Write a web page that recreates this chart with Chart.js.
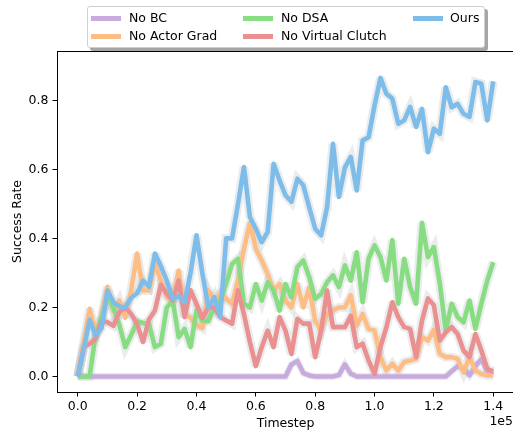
<!DOCTYPE html>
<html><head><meta charset="utf-8">
<script src="https://cdn.jsdelivr.net/npm/chart.js@4.4.1/dist/chart.umd.min.js"></script>
<style>
html,body{margin:0;padding:0;overflow:hidden;background:#fff;width:513px;height:435px;}
#wrap{position:absolute;left:0;top:0;width:520px;height:435px;}
#legend{position:absolute;left:87px;top:6px;width:396px;height:40px;border:1px solid #cfcfcf;border-radius:3px;background:#fff;box-shadow:3px 3px 0 #a6a6a6;font-family:"DejaVu Sans";font-size:12.5px;color:#000;}
.h{position:absolute;height:5px;width:30px;}
.t{position:absolute;line-height:14px;white-space:nowrap;}
</style></head>
<body>
<div id="wrap"><canvas id="c" width="520" height="435"></canvas></div>
<div id="legend"></div>
<script>
// ---- data ----
const timesteps = [0,2000,4000,6000,8000,10000,12000,14000,16000,18000,20000,22000,24000,26000,28000,30000,32000,34000,36000,38000,40000,42000,44000,46000,48000,50000,52000,54000,56000,58000,60000,62000,64000,66000,68000,70000,72000,74000,76000,78000,80000,82000,84000,86000,88000,90000,92000,94000,96000,98000,100000,102000,104000,106000,108000,110000,112000,114000,116000,118000,120000,122000,124000,126000,128000,130000,132000,134000,136000,138000,140000];
const xTickValues = [0,20000,40000,60000,80000,100000,120000,140000];
const yTickValues = [0,0.2,0.4,0.6,0.8];
const seriesNames = ["No BC","No Actor Grad","No DSA","No Virtual Clutch","Ours"];

const noBC = [0,0,0,0,0,0,0,0,0,0,0,0,0,0,0,0,0,0,0,0,0,0,0,0,0,0,0,0,0,0,0,0,0,0,0,0,0.035,0.045,0.01,0.003,0,0,0,0,0.004,0.035,0.008,0,0,0,0,0,0,0,0,0,0,0,0,0,0,0,0,0.015,0.03,0.025,0.003,0.03,0.05,0.015,0.005];
const noActorGrad = [0,0.10,0.196,0.13,0.17,0.26,0.19,0.22,0.17,0.25,0.356,0.249,0.249,0.327,0.278,0.23,0.22,0.307,0.182,0.17,0.15,0.14,0.249,0.22,0.24,0.225,0.21,0.28,0.37,0.445,0.37,0.336,0.297,0.249,0.268,0.22,0.2,0.268,0.2,0.258,0.162,0.133,0.181,0.191,0.2,0.2,0.235,0.147,0.181,0.138,0.133,0.056,0.017,0.037,0.017,0.042,0.046,0.051,0.114,0.104,0.135,0.065,0.056,0.056,0.051,0.012,0.056,0.017,0.007,0.003,0.003];
const noDSA = [0,0,0,0.12,0.17,0.23,0.20,0.15,0.085,0.12,0.16,0.155,0.152,0.085,0.095,0.2,0.22,0.114,0.138,0.085,0.191,0.162,0.16,0.2,0.22,0.268,0.326,0.341,0.211,0.2,0.268,0.22,0.273,0.249,0.191,0.268,0.229,0.317,0.336,0.288,0.225,0.239,0.273,0.293,0.259,0.322,0.278,0.36,0.215,0.341,0.38,0.346,0.278,0.395,0.211,0.341,0.259,0.211,0.445,0.346,0.375,0.269,0.133,0.211,0.172,0.157,0.22,0.138,0.211,0.278,0.331];
const noVirtualClutch = [0,0.085,0.095,0.109,0.16,0.157,0.147,0.186,0.2,0.181,0.152,0.1,0.165,0.191,0.266,0.24,0.22,0.278,0.172,0.25,0.21,0.17,0.2,0.2,0.172,0.162,0.153,0.25,0.18,0.10,0.03,0.085,0.133,0.085,0.172,0.133,0.065,0.167,0.153,0.153,0.056,0.133,0.249,0.143,0.143,0.143,0.176,0.085,0.095,0.046,0.007,0.085,0.143,0.215,0.172,0.143,0.138,0.056,0.162,0.226,0.206,0.104,0.128,0.143,0.123,0.075,0.056,0.123,0.075,0.022,0.015];
const ours = [0,0.08,0.164,0.119,0.14,0.249,0.215,0.203,0.2,0.228,0.241,0.278,0.26,0.356,0.32,0.278,0.225,0.232,0.215,0.3,0.409,0.298,0.2,0.23,0.172,0.40,0.40,0.50,0.607,0.462,0.428,0.389,0.419,0.616,0.568,0.525,0.506,0.573,0.554,0.49,0.428,0.409,0.49,0.674,0.52,0.605,0.636,0.539,0.684,0.693,0.785,0.865,0.819,0.805,0.732,0.742,0.781,0.723,0.775,0.650,0.718,0.703,0.838,0.780,0.790,0.761,0.752,0.853,0.848,0.742,0.855];

const seriesValues = [noBC, noActorGrad, noDSA, noVirtualClutch, ours];
const seriesColors = ["#c8aade","#ffbd86","#88dc82","#ea9090","#7ebde9"];
const haloWidths = [7,9,9,9,9];

// ---- datasets ----
const datasets = [];
seriesValues.forEach((vals, s) => {
  datasets.push({
    label: seriesNames[s] + " band",
    data: vals.map((v, i) => ({x: timesteps[i], y: v})),
    borderColor: "rgba(150,158,165,0.2)",
    borderWidth: haloWidths[s],
    borderJoinStyle: "miter",
    pointRadius: 0, fill: false, tension: 0,
    order: 100 - s
  });
});
seriesValues.forEach((vals, s) => {
  datasets.push({
    label: seriesNames[s],
    data: vals.map((v, i) => ({x: timesteps[i], y: v})),
    borderColor: seriesColors[s],
    borderWidth: 4.6,
    borderJoinStyle: "round",
    borderCapStyle: "butt",
    pointRadius: 0, fill: false, tension: 0,
    order: 50 - s
  });
});

const FONT = {family: "DejaVu Sans", size: 12.5};

const frame = {
  id: "frame",
  beforeDatasetsDraw(chart) { chart.ctx.miterLimit = 3.2; },
  afterDraw(chart) {
    const ctx = chart.ctx, a = chart.chartArea;
    ctx.save();
    ctx.strokeStyle = "#000"; ctx.lineWidth = 1;
    ctx.beginPath();
    ctx.moveTo(a.left, Math.round(a.top) + 0.5);
    ctx.lineTo(a.right, Math.round(a.top) + 0.5);
    ctx.moveTo(Math.round(a.right) - 0.5, a.top);
    ctx.lineTo(Math.round(a.right) - 0.5, a.bottom);
    ctx.stroke();
    ctx.fillStyle = "#000";
    ctx.font = '12.5px "DejaVu Sans"';
    ctx.textAlign = "center"; ctx.textBaseline = "middle";
    ctx.fillText("Timestep", (a.left + a.right) / 2, 424);
    ctx.textAlign = "right";
    ctx.fillText("1e5", 513, 422);
    ctx.translate(18, (a.top + a.bottom) / 2);
    ctx.rotate(-Math.PI / 2);
    ctx.textAlign = "center";
    ctx.fillText("Success Rate", 0, 0);
    ctx.restore();
  }
};

new Chart(document.getElementById("c"), {
  type: "line",
  data: {datasets},
  options: {
    responsive: false, animation: false, devicePixelRatio: 1,
    layout: {padding: {top: 51, right: 6, left: 0, bottom: 0}},
    plugins: {legend: {display: false}, tooltip: {enabled: false}},
    scales: {
      x: {
        type: "linear", min: -7000, max: 147000,
        afterBuildTicks: s => { s.ticks = xTickValues.map(v => ({value: v})); },
        afterFit: s => { s.height = 43; },
        ticks: {callback: v => (v / 1e5).toFixed(1), font: FONT, color: "#000", padding: 3, maxRotation: 0, autoSkip: false},
        grid: {drawOnChartArea: false, drawTicks: true, tickLength: 4.5, color: "#000"},
        border: {display: true, color: "#000", width: 1}
      },
      y: {
        type: "linear", min: -0.045, max: 0.943,
        afterBuildTicks: s => { s.ticks = yTickValues.map(v => ({value: v})); },
        afterFit: s => { s.width = 57; },
        ticks: {callback: v => v.toFixed(1), font: FONT, color: "#000", padding: 4},
        grid: {drawOnChartArea: false, drawTicks: true, tickLength: 4.5, color: "#000"},
        border: {display: true, color: "#000", width: 1}
      }
    }
  },
  plugins: [frame]
});

// ---- legend (matplotlib column order) ----
const legendPos = [
  {hx: 3, tx: 41, y: 11},   // No BC
  {hx: 3, tx: 41, y: 29},   // No Actor Grad
  {hx: 155, tx: 193, y: 11},// No DSA
  {hx: 155, tx: 193, y: 29},// No Virtual Clutch
  {hx: 325, tx: 362, y: 11} // Ours
];
const lg = document.getElementById("legend");
seriesNames.forEach((n, s) => {
  const p = legendPos[s];
  const h = document.createElement("div");
  h.className = "h"; h.style.left = p.hx + "px"; h.style.top = (p.y - 2.5) + "px";
  h.style.background = seriesColors[s];
  const t = document.createElement("div");
  t.className = "t"; t.style.left = p.tx + "px"; t.style.top = (p.y - 7) + "px";
  t.textContent = n;
  lg.appendChild(h); lg.appendChild(t);
});
</script>
</body></html>
